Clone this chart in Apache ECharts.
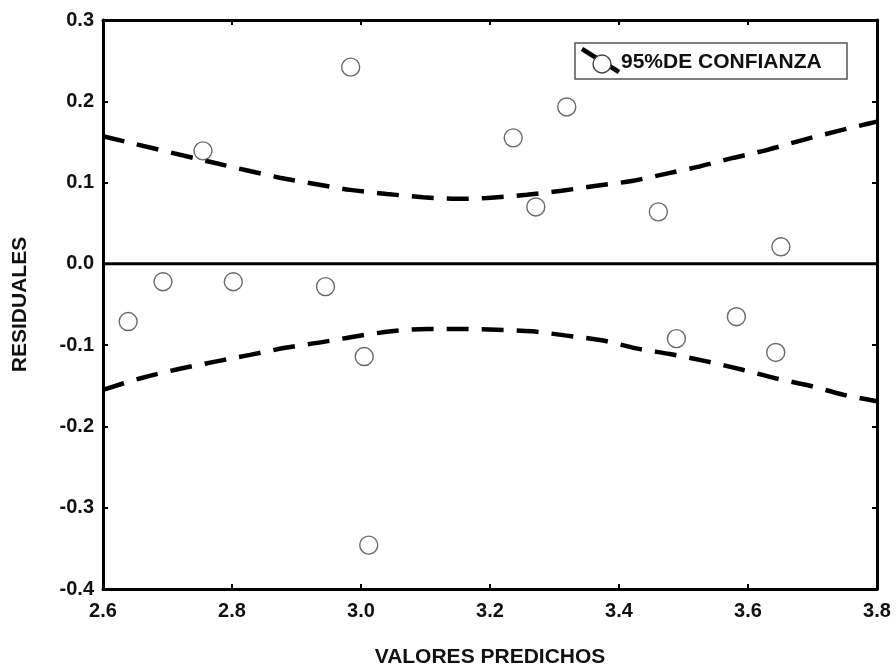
<!DOCTYPE html>
<html>
<head>
<meta charset="utf-8">
<script src="https://cdn.jsdelivr.net/npm/echarts@6/dist/echarts.min.js"></script>
<style>html,body{margin:0;padding:0;background:#fff;}#c{width:896px;height:667px;}</style>
</head>
<body>
<div id="c"></div>
<script>
// Residual points (predicted value, residual)
const predX = [2.639, 2.693, 2.755, 2.802, 2.945, 2.984, 3.005, 3.012, 3.236, 3.271, 3.319, 3.461, 3.489, 3.582, 3.643, 3.651];
const residY = [-0.071, -0.022, 0.139, -0.022, -0.028, 0.242, -0.114, -0.346, 0.155, 0.070, 0.193, 0.064, -0.092, -0.065, -0.109, 0.021];

// Upper 95% confidence band
const upperX = [2.6, 2.774, 2.874, 2.931, 2.983, 3.04, 3.096, 3.148, 3.195, 3.257, 3.311, 3.365, 3.42, 3.474, 3.52, 3.575, 3.629, 3.683, 3.737, 3.789, 3.8];
const upperY = [0.157, 0.124, 0.106, 0.098, 0.091, 0.086, 0.082, 0.080, 0.081, 0.085, 0.090, 0.096, 0.102, 0.111, 0.119, 0.130, 0.140, 0.152, 0.163, 0.173, 0.175];

// Lower 95% confidence band
const lowerX = [2.6, 2.657, 2.714, 2.776, 2.828, 2.885, 2.942, 2.993, 3.047, 3.102, 3.159, 3.21, 3.265, 3.316, 3.373, 3.427, 3.479, 3.536, 3.59, 3.644, 3.696, 3.748, 3.8];
const lowerY = [-0.155, -0.141, -0.130, -0.120, -0.112, -0.103, -0.096, -0.089, -0.083, -0.080, -0.080, -0.081, -0.083, -0.088, -0.094, -0.104, -0.111, -0.120, -0.130, -0.141, -0.150, -0.161, -0.169];

const xTicks = {min: 2.6, max: 3.8, step: 0.2};
const yTicks = {min: -0.4, max: 0.3, step: 0.1};

const xName = 'VALORES PREDICHOS';
const yName = 'RESIDUALES';
const legendName = '95%DE CONFIANZA';

const zip = (a, b) => a.map((v, i) => [v, b[i]]);
const FONT = 'Liberation Sans';

const chart = echarts.init(document.getElementById('c'), null, {renderer: 'canvas'});
const axisLineStyle = {color: '#000', width: 3};
const tickStyle = {show: true, inside: true, length: 5, lineStyle: {color: '#000', width: 2}};
const labelStyle = {color: '#111', fontFamily: FONT, fontWeight: 'bold', fontSize: 20, formatter: v => Number(v).toFixed(1)};

chart.setOption({
  animation: false,
  backgroundColor: '#fff',
  grid: {left: 103, right: 19, top: 20, bottom: 78, show: false, containLabel: false, outerBoundsMode: 'none'},
  xAxis: [
    {type: 'value', position: 'bottom', min: xTicks.min, max: xTicks.max, interval: xTicks.step,
     axisLine: {show: true, lineStyle: axisLineStyle, onZero: false}, axisTick: tickStyle,
     axisLabel: Object.assign({}, labelStyle, {margin: 12}), splitLine: {show: false},
     name: xName, nameLocation: 'middle', nameGap: 58,
     nameTextStyle: {color: '#111', fontFamily: FONT, fontWeight: 'bold', fontSize: 21}},
    {type: 'value', position: 'top', min: xTicks.min, max: xTicks.max, interval: xTicks.step,
     axisLine: {show: true, lineStyle: axisLineStyle, onZero: false}, axisTick: tickStyle,
     axisLabel: {show: false}, splitLine: {show: false}}
  ],
  yAxis: [
    {type: 'value', position: 'left', min: yTicks.min, max: yTicks.max, interval: yTicks.step,
     axisLine: {show: true, lineStyle: axisLineStyle, onZero: false}, axisTick: tickStyle,
     axisLabel: Object.assign({}, labelStyle, {margin: 9}), splitLine: {show: false},
     name: yName, nameLocation: 'middle', nameGap: 72, nameRotate: 90,
     nameTextStyle: {color: '#111', fontFamily: FONT, fontWeight: 'bold', fontSize: 21}},
    {type: 'value', position: 'right', min: yTicks.min, max: yTicks.max, interval: yTicks.step,
     axisLine: {show: true, lineStyle: axisLineStyle, onZero: false}, axisTick: tickStyle,
     axisLabel: {show: false}, splitLine: {show: false}}
  ],
  series: [
    {type: 'line', name: 'zero', data: [[xTicks.min, 0], [xTicks.max, 0]], symbol: 'none',
     lineStyle: {color: '#000', width: 3}, z: 2, silent: true},
    {type: 'line', name: 'upper', data: zip(upperX, upperY), symbol: 'none', smooth: 0.3,
     lineStyle: {color: '#000', width: 4.5, type: [22, 13], cap: 'butt'}, z: 3},
    {type: 'line', name: 'lower', data: zip(lowerX, lowerY), symbol: 'none', smooth: 0.3,
     lineStyle: {color: '#000', width: 4.5, type: [22, 13], cap: 'butt'}, z: 3},
    {type: 'scatter', name: legendName, data: zip(predX, residY), symbol: 'circle', symbolSize: 18,
     itemStyle: {color: '#fff', borderColor: '#444', borderWidth: 1.4}, z: 5}
  ],
  graphic: [
    {type: 'rect', shape: {x: 575, y: 43, width: 272, height: 36},
     style: {fill: '#fff', stroke: '#555', lineWidth: 1.5}, z: 10},
    {type: 'line', shape: {x1: 582, y1: 49, x2: 619, y2: 72},
     style: {stroke: '#000', lineWidth: 4.5}, z: 11},
    {type: 'circle', shape: {cx: 602, cy: 64, r: 9},
     style: {fill: '#fff', stroke: '#444', lineWidth: 1.4}, z: 12},
    {type: 'text', x: 621, y: 62,
     style: {text: legendName, fill: '#111', font: 'bold 21px "Liberation Sans"', textVerticalAlign: 'middle', textAlign: 'left'}, z: 12}
  ]
});
</script>
</body>
</html>
